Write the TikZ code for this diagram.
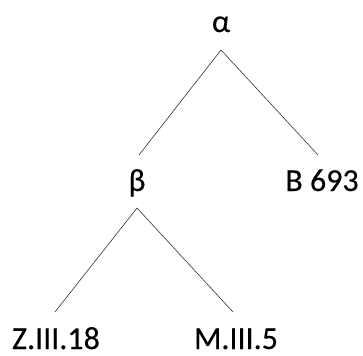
\documentclass[tikz,border=0pt]{standalone}
\usepackage{fontspec}
\setmainfont{Carlito}
\newfontfamily\lblfont[FakeBold=0.3]{Carlito}
\begin{document}
\begin{tikzpicture}[x=1pt,y=-1pt,
  lbl/.style={inner sep=0pt, anchor=base, font=\lblfont\fontsize{32}{35}\selectfont},
  edge/.style={draw=black!80, line width=0.6pt}]
\useasboundingbox (0,0) rectangle (363,355);
% node labels
\node[lbl] (alpha) at (221,32) {α};
\node[lbl] (beta)  at (137,191) {β};
\node[lbl] (b693)  at (322,191) {B 693};
\node[lbl] (z318)  at (56,349) {Z.III.18};
\node[lbl] (m35)   at (236,349) {M.III.5};
% branch points below each parent
\coordinate (alphaTip) at (221,50);
\coordinate (alphaL) at (139,155);
\coordinate (alphaR) at (318,155);
\coordinate (betaTip) at (137,208);
\coordinate (betaL) at (55,312);
\coordinate (betaR) at (233,312);
\draw[edge] (alphaL) -- (alphaTip) -- (alphaR);
\draw[edge] (betaL) -- (betaTip) -- (betaR);
\end{tikzpicture}
\end{document}
